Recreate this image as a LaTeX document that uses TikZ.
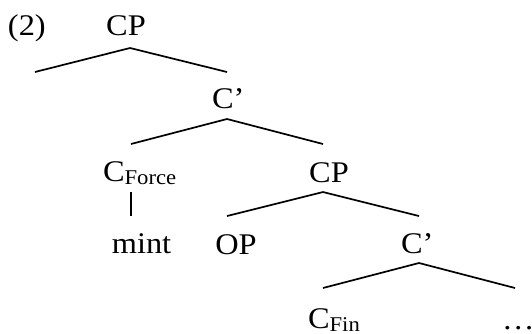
\documentclass[tikz,border=0pt]{standalone}
\usepackage{fontspec}
\setmainfont[FakeStretch=1.08]{Liberation Serif}
\newcommand{\subtxt}[1]{\raisebox{-3pt}{\fontsize{21}{24}\selectfont #1}}
\tikzset{
  lbl/.style={inner sep=0pt, outer sep=0pt, font=\fontsize{30}{34}\selectfont},
  branch/.style={line width=1.7pt, line cap=butt},
}
\begin{document}
\begin{tikzpicture}[x=1pt, y=-1pt]
\useasboundingbox (0,0) rectangle (532,333);
% labels
\node[lbl, anchor=base west] (ex) at (8,35) {(2)};
\node[lbl, anchor=base] (cp1) at (126,35) {CP};
\node[lbl, anchor=base west] (cbar1) at (212,108) {C’};
\node[lbl, anchor=base west] (cforce) at (103,181) {C\subtxt{Force}};
\node[lbl, anchor=base] (mint) at (141.5,253) {mint};
\node[lbl, anchor=base] (op) at (236,254) {OP};
\node[lbl, anchor=base] (cp2) at (329,182) {CP};
\node[lbl, anchor=base west] (cbar2) at (401,253) {C’};
\node[lbl, anchor=base west] (cfin) at (308,328) {C\subtxt{Fin}};
\node[lbl, anchor=base west] (dots) at (502,329) {…};
% branch points
\coordinate (a1) at (130,48);  \coordinate (l1) at (35,72);  \coordinate (r1) at (227,72);
\coordinate (a2) at (227,119); \coordinate (l2) at (131,144); \coordinate (r2) at (323,144);
\coordinate (a3) at (323,192); \coordinate (l3) at (227,216); \coordinate (r3) at (419,216);
\coordinate (a4) at (419,263); \coordinate (l4) at (323,288); \coordinate (r4) at (515,288);
\coordinate (v1) at (131,192); \coordinate (v2) at (131,216);
\draw[branch] (l1) -- (a1) -- (r1);
\draw[branch] (l2) -- (a2) -- (r2);
\draw[branch] (l3) -- (a3) -- (r3);
\draw[branch] (l4) -- (a4) -- (r4);
\draw[branch] (v1) -- (v2);
\end{tikzpicture}
\end{document}
